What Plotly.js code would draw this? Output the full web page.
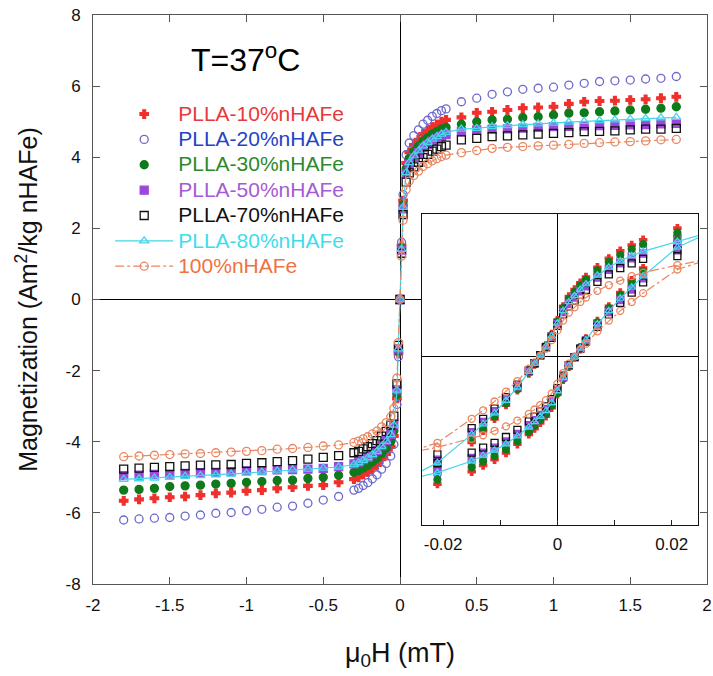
<!DOCTYPE html>
<html><head><meta charset="utf-8">
<script src="https://cdn.plot.ly/plotly-3.0.1.min.js"></script>
<style>html,body{margin:0;padding:0;background:#fff}#chart{width:713px;height:676px}</style>
</head><body><div id="chart"></div>
<script>
// ---------- data ----------
const seriesNames = ["PLLA-10%nHAFe","PLLA-20%nHAFe","PLLA-30%nHAFe","PLLA-50%nHAFe","PLLA-70%nHAFe","PLLA-80%nHAFe","100%nHAFe"];

const fieldMain = [-1.8,-1.7,-1.6,-1.5,-1.4,-1.3,-1.2,-1.1,-1.0,-0.9,-0.8,-0.7,-0.6,-0.5,-0.4,
  -0.3,-0.27,-0.24,-0.21,-0.18,-0.15,-0.12,-0.09,-0.06,-0.04,-0.02,-0.01,0,
  0.01,0.02,0.04,0.06,0.09,0.12,0.15,0.18,0.21,0.24,0.27,0.3,
  0.4,0.5,0.6,0.7,0.8,0.9,1.0,1.1,1.2,1.3,1.4,1.5,1.6,1.7,1.8];

const m10 = [-5.66,-5.62,-5.59,-5.56,-5.54,-5.50,-5.45,-5.43,-5.38,-5.36,-5.31,-5.28,-5.24,-5.22,-5.14,
  -5.05,-5.00,-4.92,-4.85,-4.75,-4.65,-4.49,-4.34,-4.14,-3.84,-2.78,-1.52,0,
  1.52,2.78,3.84,4.14,4.34,4.49,4.65,4.75,4.85,4.92,5.00,5.05,
  5.12,5.25,5.28,5.33,5.38,5.40,5.42,5.50,5.56,5.58,5.59,5.61,5.63,5.66,5.70];
const m20 = [-6.20,-6.17,-6.15,-6.13,-6.09,-6.06,-6.01,-5.99,-5.94,-5.90,-5.84,-5.81,-5.73,-5.64,-5.54,
  -5.36,-5.31,-5.23,-5.15,-5.04,-4.93,-4.77,-4.61,-4.40,-4.07,-2.95,-1.61,0,
  1.61,2.95,4.07,4.40,4.61,4.77,4.93,5.04,5.15,5.23,5.31,5.36,
  5.56,5.66,5.77,5.84,5.91,5.94,5.97,6.03,6.08,6.13,6.15,6.17,6.20,6.22,6.27];
const m30 = [-5.36,-5.34,-5.31,-5.26,-5.24,-5.22,-5.19,-5.17,-5.14,-5.12,-5.09,-5.08,-5.03,-5.00,-4.94,
  -4.86,-4.81,-4.74,-4.67,-4.57,-4.47,-4.33,-4.18,-3.99,-3.69,-2.67,-1.46,0,
  1.45,2.66,3.68,3.97,4.16,4.31,4.45,4.55,4.65,4.72,4.79,4.84,
  4.93,5.00,5.05,5.07,5.12,5.14,5.19,5.24,5.25,5.28,5.30,5.33,5.35,5.38,5.42];
const m50 = [-4.95,-4.94,-4.92,-4.91,-4.89,-4.87,-4.86,-4.84,-4.82,-4.81,-4.79,-4.78,-4.77,-4.75,-4.70,
  -4.62,-4.57,-4.50,-4.44,-4.34,-4.25,-4.11,-3.97,-3.79,-3.51,-2.54,-1.39,0,
  1.39,2.55,3.53,3.80,3.99,4.13,4.27,4.36,4.45,4.52,4.59,4.64,
  4.72,4.77,4.79,4.80,4.82,4.84,4.86,4.87,4.88,4.89,4.90,4.91,4.92,4.94,4.95];
const m70 = [-4.77,-4.74,-4.72,-4.70,-4.68,-4.66,-4.65,-4.64,-4.61,-4.59,-4.56,-4.53,-4.49,-4.44,-4.39,
  -4.31,-4.27,-4.20,-4.14,-4.05,-3.97,-3.84,-3.71,-3.53,-3.28,-2.37,-1.29,0,
  1.30,2.39,3.30,3.56,3.73,3.86,3.99,4.08,4.17,4.23,4.30,4.34,
  4.49,4.53,4.58,4.60,4.63,4.65,4.67,4.69,4.72,4.73,4.74,4.77,4.79,4.79,4.81];
const m80 = [-5.06,-5.04,-5.02,-5.00,-4.97,-4.95,-4.93,-4.91,-4.88,-4.85,-4.82,-4.79,-4.77,-4.74,-4.71,
  -4.64,-4.59,-4.52,-4.45,-4.36,-4.27,-4.13,-3.99,-3.80,-3.53,-2.55,-1.39,0,
  1.41,2.59,3.57,3.85,4.04,4.18,4.32,4.42,4.51,4.58,4.65,4.70,
  4.79,4.81,4.86,4.89,4.92,4.94,4.96,4.99,5.01,5.03,5.05,5.07,5.09,5.11,5.12];
const m100 = [-4.42,-4.40,-4.38,-4.36,-4.34,-4.33,-4.31,-4.29,-4.27,-4.25,-4.21,-4.19,-4.16,-4.12,-4.09,
  -4.02,-3.98,-3.92,-3.86,-3.78,-3.70,-3.58,-3.46,-3.30,-3.06,-2.21,-1.21,0,
  1.22,2.23,3.09,3.33,3.49,3.61,3.74,3.82,3.90,3.96,4.02,4.06,
  4.13,4.19,4.25,4.28,4.30,4.32,4.34,4.36,4.39,4.41,4.43,4.44,4.46,4.49,4.50];

// inset: descending-field branch and ascending-field branch
const fieldDesc = [0.027,0.021,0.015,0.013,0.011,0.009,0.007,0.005,0.004,0.003,0.002,0.001,0,-0.001,-0.002,-0.003,-0.004,-0.005,-0.007,-0.009,-0.011,-0.013,-0.015,-0.021,-0.027];
const fieldAsc  = [-0.027,-0.021,-0.015,-0.013,-0.011,-0.009,-0.007,-0.005,-0.004,-0.003,-0.002,-0.001,0,0.001,0.002,0.003,0.004,0.005,0.007,0.009,0.011,0.013,0.015,0.021,0.027];

const d10 = [3.05,2.88,2.62,2.50,2.37,2.20,2.00,1.78,1.65,1.50,1.34,1.12,0.81,0.50,0.24,0.02,-0.19,-0.39,-0.77,-1.10,-1.41,-1.68,-1.94,-2.64,-3.05];
const d20 = [2.85,2.67,2.43,2.32,2.19,2.04,1.86,1.65,1.53,1.39,1.24,1.04,0.75,0.46,0.22,0.02,-0.17,-0.36,-0.71,-1.02,-1.31,-1.56,-1.80,-2.45,-2.85];
const d30 = [2.95,2.78,2.52,2.41,2.28,2.12,1.93,1.72,1.59,1.44,1.29,1.08,0.78,0.48,0.23,0.02,-0.18,-0.37,-0.74,-1.06,-1.36,-1.62,-1.87,-2.54,-2.95];
const d50 = [2.72,2.54,2.31,2.20,2.09,1.94,1.77,1.57,1.46,1.32,1.18,0.99,0.72,0.44,0.21,0.02,-0.16,-0.34,-0.68,-0.97,-1.24,-1.48,-1.71,-2.33,-2.72];
const d70 = [2.58,2.41,2.19,2.09,1.98,1.84,1.67,1.49,1.38,1.25,1.12,0.94,0.68,0.41,0.20,0.02,-0.16,-0.32,-0.64,-0.92,-1.18,-1.41,-1.62,-2.21,-2.58];
const d80 = [2.80,2.58,2.36,2.26,2.14,2.00,1.82,1.62,1.50,1.36,1.22,1.02,0.74,0.45,0.22,0.02,-0.17,-0.35,-0.70,-1.00,-1.28,-1.53,-1.76,-2.40,-2.80];
const d100 = [2.20,2.05,1.88,1.80,1.70,1.60,1.47,1.32,1.22,1.10,0.98,0.80,0.58,0.36,0.17,0.01,-0.14,-0.28,-0.56,-0.80,-1.02,-1.22,-1.41,-1.95,-2.20];

const a10 = [-3.05,-2.88,-2.60,-2.46,-2.33,-2.18,-1.98,-1.76,-1.63,-1.50,-1.35,-1.16,-0.86,-0.53,-0.24,-0.02,0.20,0.40,0.79,1.12,1.43,1.71,1.98,2.70,3.05];
const a20 = [-2.85,-2.67,-2.41,-2.28,-2.16,-2.02,-1.84,-1.63,-1.51,-1.39,-1.25,-1.07,-0.80,-0.49,-0.22,-0.02,0.18,0.37,0.73,1.04,1.33,1.58,1.84,2.50,2.85];
const a30 = [-2.95,-2.78,-2.50,-2.37,-2.25,-2.10,-1.91,-1.70,-1.57,-1.44,-1.30,-1.11,-0.83,-0.51,-0.23,-0.02,0.19,0.38,0.76,1.08,1.38,1.64,1.91,2.60,2.95];
const a50 = [-2.72,-2.54,-2.29,-2.17,-2.06,-1.92,-1.75,-1.55,-1.44,-1.32,-1.19,-1.02,-0.76,-0.47,-0.21,-0.02,0.17,0.35,0.70,0.99,1.26,1.50,1.75,2.38,2.72];
const a70 = [-2.58,-2.41,-2.17,-2.06,-1.95,-1.82,-1.66,-1.47,-1.36,-1.25,-1.13,-0.97,-0.72,-0.44,-0.20,-0.02,0.17,0.33,0.66,0.94,1.20,1.43,1.66,2.25,2.58];
const a80 = [-2.80,-2.62,-2.36,-2.24,-2.12,-1.98,-1.80,-1.60,-1.48,-1.36,-1.23,-1.05,-0.78,-0.48,-0.22,-0.02,0.18,0.36,0.72,1.02,1.30,1.55,1.80,2.45,2.80];
const a100 = [-2.20,-2.05,-1.86,-1.78,-1.68,-1.58,-1.45,-1.30,-1.20,-1.10,-0.99,-0.84,-0.62,-0.38,-0.17,-0.01,0.14,0.28,0.56,0.80,1.02,1.22,1.42,1.95,2.20];

const xTickVals = [-2,-1.5,-1,-0.5,0,0.5,1,1.5,2];
const xTickText = ["-2","-1.5","-1","-0.5","0","0.5","1","1.5","2"];
const yTickVals = [-8,-6,-4,-2,0,2,4,6,8];
const yTickText = ["-8","-6","-4","-2","0","2","4","6","8"];
const insetTickVals = [-0.02,0,0.02];
const insetTickText = ["-0.02","0","0.02"];

// ---------- styles ----------
const mainY = [m10,m20,m30,m50,m70,m80,m100];
const descY = [d10,d20,d30,d50,d70,d80,d100];
const ascY  = [a10,a20,a30,a50,a70,a80,a100];
const styles = [
  {sym:"cross", col:"#f0302c", txt:"#e8393b", size:7, mode:"markers"},
  {sym:"circle-open", col:"#6c68cf", txt:"#2443c4", size:8, mode:"markers"},
  {sym:"circle", col:"#0f7a1c", txt:"#2c8a2c", size:8, mode:"markers"},
  {sym:"square", col:"#9b48da", txt:"#a65ad6", size:8, mode:"markers"},
  {sym:"square-open", col:"#111111", txt:"#111111", size:8, mode:"markers"},
  {sym:"triangle-up-open", col:"#45d6ea", txt:"#3fdcec", size:8, mode:"lines+markers", dash:"solid"},
  {sym:"circle-open", col:"#ea8660", txt:"#ef7243", size:8, mode:"lines+markers", dash:"dashdot"}
];

const traces = [];
styles.forEach((s, i) => {
  const mk = {symbol:s.sym, color:s.col, size:s.size, line:{color:s.col, width:1.3}};
  traces.push({
    type:"scatter", x:fieldMain, y:mainY[i], mode:s.mode,
    name:'<span style="font-size:21px;fill:' + s.txt + '">' + seriesNames[i] + '</span>',
    marker:mk, line:{color:s.col, width:1.2, dash:s.dash||"solid"},
    xaxis:"x", yaxis:"y", hoverinfo:"x+y"
  });
});
styles.forEach((s, i) => {
  const mk = {symbol:s.sym, color:s.col, size:s.size - 1, line:{color:s.col, width:1.3}};
  traces.push({
    type:"scatter", x:fieldDesc.concat(fieldAsc), y:descY[i].concat(ascY[i]), mode:s.mode,
    showlegend:false, marker:mk, line:{color:s.col, width:1.2, dash:s.dash||"solid"},
    xaxis:"x2", yaxis:"y2", hoverinfo:"x+y"
  });
});

const FONT = "Liberation Sans, Arial, sans-serif";
const layout = {
  width:713, height:676,
  margin:{l:93, r:6, t:15, b:92, pad:0},
  paper_bgcolor:"#ffffff", plot_bgcolor:"#ffffff",
  font:{family:FONT, color:"#111", size:17},
  showlegend:true,
  legend:{x:0.028, y:0.857, xanchor:"left", yanchor:"top", bgcolor:"rgba(0,0,0,0)",
    font:{family:FONT, size:17.2}, itemwidth:58, tracegroupgap:0},
  xaxis:{domain:[0,1], range:[-2,2], tickvals:xTickVals, ticktext:xTickText,
    ticks:"inside", ticklen:7, tickcolor:"#555", showline:true, linecolor:"#555", linewidth:1,
    mirror:"ticks", showgrid:false, zeroline:true, zerolinecolor:"#000", zerolinewidth:1,
    ticklabelstandoff:6, tickfont:{size:17, family:FONT},
    title:{text:"μ<sub>0</sub>H (mT)", font:{size:27, family:FONT}, standoff:28}},
  yaxis:{domain:[0,1], range:[-8,8], tickvals:yTickVals, ticktext:yTickText,
    ticks:"inside", ticklen:7, tickcolor:"#555", showline:true, linecolor:"#555", linewidth:1,
    mirror:"ticks", showgrid:false, zeroline:true, zerolinecolor:"#000", zerolinewidth:1,
    ticklabelstandoff:8, tickfont:{size:17, family:FONT},
    title:{text:"Magnetization (Am<sup>2</sup>/kg nHAFe)", font:{size:25, family:FONT}, standoff:20}},
  xaxis2:{domain:[0.5358,0.9853], anchor:"y2", range:[-0.0237,0.0246],
    tickvals:insetTickVals, ticktext:insetTickText, ticks:"inside", ticklen:5, tickcolor:"#222",
    minor:{tickvals:[-0.01,0.01], ticks:"inside", ticklen:5, tickcolor:"#222", showgrid:false},
    showline:true, linecolor:"#111", linewidth:1, mirror:true, showgrid:false,
    zeroline:true, zerolinecolor:"#000", zerolinewidth:1, ticklabelstandoff:4,
    tickfont:{size:17, family:FONT}},
  yaxis2:{domain:[0.1037,0.6503], anchor:"x2", range:[-3.8,3.2],
    showticklabels:false, ticks:"", showline:true, linecolor:"#111", linewidth:1, mirror:true,
    showgrid:false, zeroline:true, zerolinecolor:"#000", zerolinewidth:1},
  annotations:[{xref:"paper", yref:"paper", x:0.2476, y:0.9244, xanchor:"center", yanchor:"middle",
    text:"T=37<sup>o</sup>C", showarrow:false, font:{size:32, family:FONT, color:"#000"}}]
};

Plotly.newPlot("chart", traces, layout, {displayModeBar:false, staticPlot:true});
</script></body></html>
